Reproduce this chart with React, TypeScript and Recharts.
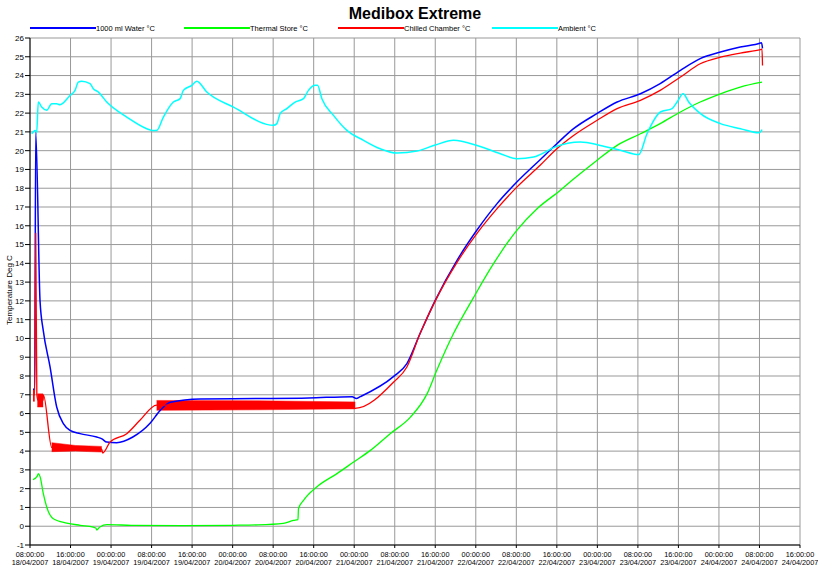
import { ComposedChart, Line, Area, XAxis, YAxis, CartesianGrid } from "recharts";

const FONT = "'Liberation Sans', Arial, Helvetica, sans-serif";

// x axis: hours since 18/04/2007 08:00:00
const tickHours = [0, 8, 16, 24, 32, 40, 48, 56, 64, 72, 80, 88, 96, 104, 112, 120, 128, 136, 144, 152];
const tickTimes = [
  "08:00:00", "16:00:00", "00:00:00", "08:00:00", "16:00:00", "00:00:00", "08:00:00", "16:00:00", "00:00:00", "08:00:00",
  "16:00:00", "00:00:00", "08:00:00", "16:00:00", "00:00:00", "08:00:00", "16:00:00", "00:00:00", "08:00:00", "16:00:00",
];
const tickDates = [
  "18/04/2007", "18/04/2007", "19/04/2007", "19/04/2007", "19/04/2007", "20/04/2007", "20/04/2007", "20/04/2007", "21/04/2007", "21/04/2007",
  "21/04/2007", "22/04/2007", "22/04/2007", "22/04/2007", "23/04/2007", "23/04/2007", "23/04/2007", "24/04/2007", "24/04/2007", "24/04/2007",
];
const tempTicks = [-1, 0, 1, 2, 3, 4, 5, 6, 7, 8, 9, 10, 11, 12, 13, 14, 15, 16, 17, 18, 19, 20, 21, 22, 23, 24, 25, 26];

// 1000 ml Water °C
const waterHours = [0.6, 0.93, 1.13, 1.98, 2.63, 3.95, 5.27, 6.58, 7.9, 9.88, 13.18, 14.2, 15.15, 17.1, 20.3, 23.7, 25.7, 27.7, 33.6, 45, 55, 63.6, 64.4, 65.2, 71.8, 74.4, 77.0, 80.0, 84.3, 88.2, 92.2, 96.1, 100.7, 104.0, 107.3, 111.9, 115.9, 120.5, 124.4, 128.4, 132.3, 136.3, 140.2, 144.2, 144.4, 144.6];
const waterTemp = [7.3, 7.3, 21.0, 12.0, 10.4, 8.5, 6.35, 5.46, 5.1, 4.93, 4.75, 4.65, 4.48, 4.45, 4.75, 5.48, 6.17, 6.6, 6.78, 6.8, 6.83, 6.9, 6.8, 6.9, 7.98, 8.66, 10.26, 12.03, 14.16, 15.76, 17.18, 18.33, 19.52, 20.37, 21.17, 21.97, 22.59, 23.03, 23.57, 24.28, 24.9, 25.25, 25.52, 25.73, 25.75, 25.45];

// Thermal Store °C
const storeHours = [0.6, 1.4, 1.65, 2.0, 2.63, 3.3, 4.6, 7.25, 9.9, 12.5, 13.0, 13.2, 13.5, 13.8, 15.2, 20, 30, 40, 45, 50, 52.0, 52.9, 53.0, 54.0, 56.6, 60.6, 63.9, 67.2, 71.1, 75.1, 78.4, 80.3, 83.6, 87.6, 91.5, 96.1, 100.1, 104.7, 107.0, 111.9, 115.9, 120.5, 124.4, 128.4, 132.3, 136.3, 140.2, 144.5];
const storeTemp = [2.48, 2.65, 2.8, 2.63, 1.73, 1.02, 0.4, 0.17, 0.05, -0.05, -0.1, -0.2, -0.12, -0.04, 0.08, 0.05, 0.03, 0.05, 0.07, 0.15, 0.31, 0.35, 0.94, 1.38, 2.09, 2.8, 3.42, 4.04, 4.93, 5.81, 7.06, 8.3, 10.26, 12.2, 13.98, 15.76, 16.91, 17.89, 18.42, 19.48, 20.28, 20.9, 21.44, 22.06, 22.59, 23.03, 23.39, 23.65];

// Chilled Chamber °C (mean line + cycling band)
const chamberHours = [0.6, 0.93, 1.13, 1.35, 1.6, 2.6, 2.65, 4.29, 14.16, 14.35, 15.8, 19.1, 21.7, 25.0, 45, 64.2, 71.8, 74.4, 77.0, 80.0, 84.3, 88.2, 92.2, 96.1, 100.7, 104.0, 107.3, 111.9, 115.9, 120.5, 124.4, 128.4, 132.3, 136.3, 140.2, 144.2, 144.5, 144.6];
const chamberTemp = [7.0, 7.0, 15.6, 7.0, 6.7, 6.7, 7.0, 4.2, 4.1, 3.9, 4.48, 4.93, 5.64, 6.45, 6.45, 6.28, 7.68, 8.48, 10.26, 12.0, 14.05, 15.58, 16.91, 18.06, 19.22, 20.1, 20.81, 21.61, 22.24, 22.68, 23.21, 23.92, 24.63, 24.98, 25.2, 25.38, 25.4, 24.54];
const chamberBandHours = [[0.6, 0.93], [1.45, 2.6], [4.29, 9, 14.16], [25.0, 45, 64.2]];
const chamberBandLow = [[6.65, 6.65], [6.35, 6.35], [3.97, 4.0, 3.95], [6.17, 6.2, 6.25]];
const chamberBandHigh = [[7.3, 7.3], [7.05, 7.05], [4.45, 4.3, 4.25], [6.7, 6.68, 6.62]];

// Ambient °C
const ambientHours = [0.34, 0.99, 1.32, 1.64, 2.31, 3.3, 4.29, 5.27, 5.93, 7.9, 8.89, 9.54, 10.2, 11.85, 12.5, 13.5, 15.15, 19.1, 23.05, 24.04, 25.03, 26.33, 28.3, 29.63, 30.28, 31.94, 32.93, 34.9, 40.16, 48.06, 48.73, 49.38, 50.7, 52.35, 53.99, 54.97, 56.3, 56.75, 57.62, 59.91, 62.56, 65.84, 69.14, 72.44, 76.39, 80, 83.62, 88.24, 92.84, 96.14, 99.42, 100.7, 103.7, 108.64, 112.59, 116.54, 120.16, 121.8, 124.44, 126.75, 127.74, 128.93, 130.03, 132.35, 136.3, 140.25, 143.86, 144.53];
const ambientTemp = [20.9, 21.08, 20.97, 22.59, 22.32, 22.15, 22.5, 22.5, 22.45, 22.94, 23.21, 23.65, 23.7, 23.57, 23.3, 23.12, 22.59, 21.79, 21.17, 21.08, 21.08, 21.79, 22.59, 22.77, 23.21, 23.48, 23.7, 23.12, 22.32, 21.35, 21.44, 21.97, 22.24, 22.59, 22.77, 23.21, 23.48, 23.48, 22.77, 21.88, 21.08, 20.55, 20.1, 19.87, 19.98, 20.3, 20.55, 20.28, 19.84, 19.57, 19.66, 19.79, 20.2, 20.46, 20.28, 20.02, 19.79, 20.9, 22.06, 22.24, 22.59, 23.03, 22.59, 21.97, 21.44, 21.17, 20.95, 21.12];

const toPoints = (hours: number[], temps: number[]) => hours.map((h, i) => ({ h, v: temps[i] }));

const waterData = toPoints(waterHours, waterTemp);
const storeData = toPoints(storeHours, storeTemp);
const chamberData = toPoints(chamberHours, chamberTemp);
const ambientData = toPoints(ambientHours, ambientTemp);
const chamberBands = chamberBandHours.map((hours, k) =>
  hours.map((h, i) => ({ h, r: [chamberBandLow[k][i], chamberBandHigh[k][i]] }))
);

const legendItems = [
  { name: "1000 ml Water °C", color: "#0000ff", left: 30 },
  { name: "Thermal Store °C", color: "#00ff00", left: 184 },
  { name: "Chilled Chamber °C", color: "#ff0000", left: 338 },
  { name: "Ambient °C", color: "#00ffff", left: 492 },
];

function TimeTick(props: any) {
  const { x, y, payload } = props;
  const i = tickHours.indexOf(payload.value);
  return (
    <text x={x} y={y} textAnchor="middle" fontSize={7.3} fontFamily={FONT} fill="#000">
      <tspan x={x} dy={6.5}>{tickTimes[i]}</tspan>
      <tspan x={x} dy={8.7}>{tickDates[i]}</tspan>
    </text>
  );
}

export default function App() {
  return (
    <div style={{ position: "absolute", left: 0, top: 0, width: 818, height: 566, background: "#fff", fontFamily: FONT }}>
      <ComposedChart width={818} height={566} margin={{ top: 38, right: 18, bottom: 0, left: 0 }}>
        <CartesianGrid stroke="#999" strokeWidth={1} />
        <XAxis
          type="number"
          dataKey="h"
          domain={[0, 152]}
          allowDataOverflow
          ticks={tickHours}
          interval={0}
          height={21}
          tickSize={3}
          tickMargin={2}
          tick={<TimeTick />}
          axisLine={{ stroke: "#000" }}
          tickLine={{ stroke: "#000" }}
        />
        <YAxis
          type="number"
          domain={[-1, 26]}
          allowDataOverflow
          ticks={tempTicks}
          interval={0}
          width={30}
          tickSize={5}
          tickMargin={1}
          tick={{ fontSize: 8, fill: "#000", fontFamily: FONT }}
          axisLine={{ stroke: "#000" }}
          tickLine={{ stroke: "#000" }}
        />
        <Line data={waterData} dataKey="v" type="monotone" stroke="#0000ff" strokeWidth={1.5} dot={false} activeDot={false} isAnimationActive={false} />
        <Line data={storeData} dataKey="v" type="monotone" stroke="#00ff00" strokeWidth={1.3} dot={false} activeDot={false} isAnimationActive={false} />
        {chamberBands.map((band, k) => (
          <Area
            key={k}
            data={band}
            dataKey="r"
            type="linear"
            stroke="#ff0000"
            strokeWidth={0.5}
            fill="#ff0000"
            fillOpacity={1}
            dot={false}
            activeDot={false}
            isAnimationActive={false}
          />
        ))}
        <Line data={chamberData} dataKey="v" type="monotone" stroke="#ff0000" strokeWidth={1.3} dot={false} activeDot={false} isAnimationActive={false} />
        <Line data={ambientData} dataKey="v" type="monotone" stroke="#00ffff" strokeWidth={1.5} dot={false} activeDot={false} isAnimationActive={false} />
      </ComposedChart>

      <div style={{ position: "absolute", left: 30, top: 5, width: 770, textAlign: "center", fontSize: 16, fontWeight: "bold", color: "#000" }}>
        Medibox Extreme
      </div>

      {legendItems.map((item) => (
        <div key={item.name} style={{ position: "absolute", left: item.left, top: 22, height: 12, display: "flex", alignItems: "center", fontSize: 7.5, color: "#000" }}>
          <div style={{ width: 66, height: 1.5, background: item.color }} />
          <span>{item.name}</span>
        </div>
      ))}

      <div
        style={{
          position: "absolute",
          left: 9,
          top: 290,
          fontSize: 8,
          color: "#000",
          whiteSpace: "nowrap",
          transform: "translate(-50%, -50%) rotate(-90deg)",
        }}
      >
        Temperature Deg C
      </div>
    </div>
  );
}
